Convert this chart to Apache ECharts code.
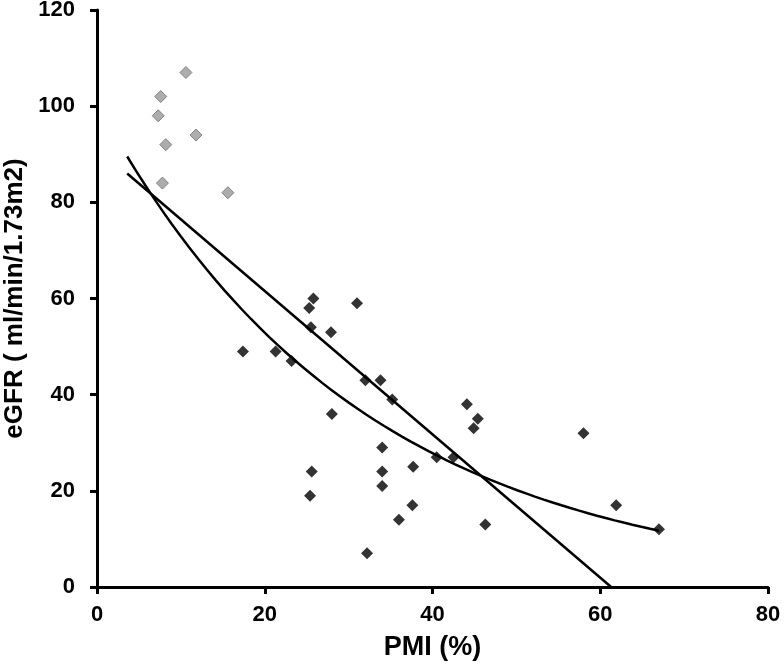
<!DOCTYPE html>
<html>
<head>
<meta charset="utf-8">
<script src="https://cdn.jsdelivr.net/npm/echarts@6/dist/echarts.min.js"></script>
<style>html,body{margin:0;padding:0;background:#fff}#c{width:784px;height:665px}</style>
</head>
<body>
<div id="c"></div>
<script>
// Gray points (PMI %, eGFR)
const grayPoints = [
  [10.6, 107], [7.6, 102], [7.3, 98], [11.8, 94], [8.2, 92], [7.8, 84], [15.6, 82]
];
// Black points (PMI %, eGFR)
const blackPoints = [
  [25.8, 60], [25.3, 58], [31.0, 59], [25.5, 54], [27.9, 53],
  [17.4, 49], [21.3, 49], [23.2, 47], [32.0, 43], [33.8, 43],
  [35.2, 39], [28.0, 36], [34.0, 29], [25.6, 24], [34.0, 24],
  [37.7, 25], [40.5, 27], [42.5, 27], [25.4, 19], [34.0, 21],
  [37.6, 17], [36.0, 14], [32.2, 7], [44.1, 38], [45.4, 35],
  [44.9, 33], [58.0, 32], [61.9, 17], [67.0, 12], [46.3, 13]
];
// Linear trend line endpoints
const linearTrend = [[3.6, 86], [61.3, 0]];
// Exponential trend: y = a * exp(b * x), from xStart to xEnd
const expA = 100.5, expB = -0.0321, expStart = 3.6, expEnd = 67;
const expTrend = [];
for (let i = 0; i <= 60; i++) {
  const x = expStart + (expEnd - expStart) * i / 60;
  expTrend.push([x, expA * Math.exp(expB * x)]);
}
const xTicks = [0, 20, 40, 60, 80];
const yTicks = [0, 20, 40, 60, 80, 100, 120];

const font = 'Liberation Sans, Arial, sans-serif';
const chart = echarts.init(document.getElementById('c'));
chart.setOption({
  animation: false,
  backgroundColor: '#fff',
  grid: { left: 97, right: 16, top: 10, bottom: 78, containLabel: false, outerBoundsMode: 'none' },
  xAxis: {
    type: 'value', min: xTicks[0], max: xTicks[xTicks.length - 1], interval: 20,
    name: 'PMI (%)', nameLocation: 'middle', nameGap: 47,
    nameTextStyle: { fontFamily: font, fontWeight: 'bold', fontSize: 27, color: '#000' },
    axisLine: { lineStyle: { color: '#000', width: 3 } },
    axisTick: { show: true, inside: false, length: 7, lineStyle: { color: '#000', width: 3 } },
    axisLabel: { fontFamily: font, fontWeight: 'bold', fontSize: 22, color: '#000', margin: 17 },
    splitLine: { show: false }
  },
  yAxis: {
    type: 'value', min: yTicks[0], max: yTicks[yTicks.length - 1], interval: 20,
    name: 'eGFR ( ml/min/1.73m2)', nameLocation: 'middle', nameGap: 67,
    nameTextStyle: { fontFamily: font, fontWeight: 'bold', fontSize: 26, color: '#000' },
    axisLine: { show: true, lineStyle: { color: '#000', width: 3 } },
    axisTick: { show: true, inside: false, length: 7, lineStyle: { color: '#000', width: 3 } },
    axisLabel: { fontFamily: font, fontWeight: 'bold', fontSize: 22, color: '#000', margin: 22 },
    splitLine: { show: false }
  },
  series: [
    {
      type: 'line', data: linearTrend, showSymbol: false, symbol: 'none',
      lineStyle: { color: '#000', width: 2.5 }, z: 2
    },
    {
      type: 'line', data: expTrend, showSymbol: false, symbol: 'none', smooth: false,
      lineStyle: { color: '#000', width: 2.5 }, z: 2
    },
    {
      type: 'scatter', data: grayPoints, symbol: 'diamond', symbolSize: 12,
      itemStyle: { color: '#999', borderColor: '#6e6e6e', borderWidth: 1 }, z: 3
    },
    {
      type: 'scatter', data: blackPoints, symbol: 'diamond', symbolSize: 12,
      itemStyle: { color: '#000' }, z: 3
    }
  ]
});
</script>
</body>
</html>
